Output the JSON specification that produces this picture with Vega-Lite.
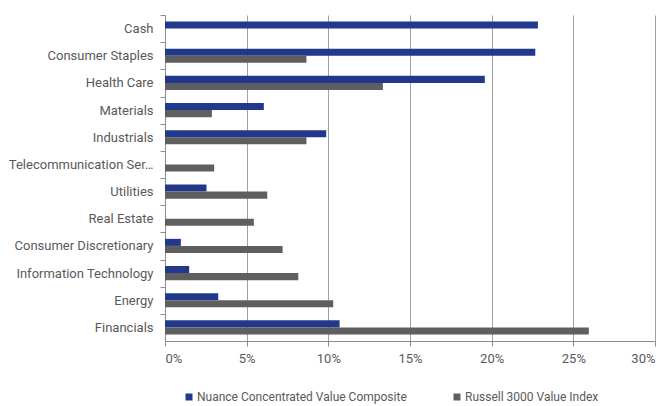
{
  "$schema": "https://vega.github.io/schema/vega-lite/v6.json",
  "width": 490,
  "height": 326,
  "autosize": {"type": "none"},
  "padding": {"left": 165, "top": 15, "right": 13, "bottom": 65},
  "background": "white",
  "config": {
    "view": {"stroke": null},
    "font": "Roboto"
  },
  "data": {
    "values": [
      {"sector": "Cash", "series": "Nuance Concentrated Value Composite", "value": 0.2283},
      {"sector": "Consumer Staples", "series": "Nuance Concentrated Value Composite", "value": 0.2267},
      {"sector": "Consumer Staples", "series": "Russell 3000 Value Index", "value": 0.0866},
      {"sector": "Health Care", "series": "Nuance Concentrated Value Composite", "value": 0.1958},
      {"sector": "Health Care", "series": "Russell 3000 Value Index", "value": 0.1334},
      {"sector": "Materials", "series": "Nuance Concentrated Value Composite", "value": 0.0605},
      {"sector": "Materials", "series": "Russell 3000 Value Index", "value": 0.0287},
      {"sector": "Industrials", "series": "Nuance Concentrated Value Composite", "value": 0.0987},
      {"sector": "Industrials", "series": "Russell 3000 Value Index", "value": 0.0866},
      {"sector": "Telecommunication Services", "series": "Russell 3000 Value Index", "value": 0.0301},
      {"sector": "Utilities", "series": "Nuance Concentrated Value Composite", "value": 0.0254},
      {"sector": "Utilities", "series": "Russell 3000 Value Index", "value": 0.0626},
      {"sector": "Real Estate", "series": "Russell 3000 Value Index", "value": 0.0544},
      {"sector": "Consumer Discretionary", "series": "Nuance Concentrated Value Composite", "value": 0.0097},
      {"sector": "Consumer Discretionary", "series": "Russell 3000 Value Index", "value": 0.072},
      {"sector": "Information Technology", "series": "Nuance Concentrated Value Composite", "value": 0.0148},
      {"sector": "Information Technology", "series": "Russell 3000 Value Index", "value": 0.0816},
      {"sector": "Energy", "series": "Nuance Concentrated Value Composite", "value": 0.0326},
      {"sector": "Energy", "series": "Russell 3000 Value Index", "value": 0.103},
      {"sector": "Financials", "series": "Nuance Concentrated Value Composite", "value": 0.1069},
      {"sector": "Financials", "series": "Russell 3000 Value Index", "value": 0.2595}
    ]
  },
  "mark": {"type": "bar"},
  "encoding": {
    "y": {
      "field": "sector",
      "type": "nominal",
      "sort": null,
      "title": null,
      "scale": {"paddingInner": 0.48, "paddingOuter": 0.24},
      "axis": {
        "domainColor": "#8c8c8c",
        "tickColor": "#8c8c8c",
        "tickSize": 5,
        "tickOffset": -13.58,
        "labelOffset": 13.58,
        "labelFontSize": 13,
        "labelColor": "#595959",
        "labelPadding": 7,
        "labelLimit": 150
      }
    },
    "yOffset": {
      "field": "series",
      "type": "nominal",
      "scale": {"domain": ["Nuance Concentrated Value Composite", "Russell 3000 Value Index"]}
    },
    "x": {
      "field": "value",
      "type": "quantitative",
      "title": null,
      "scale": {"domain": [0, 0.3], "nice": false},
      "axis": {
        "format": ".0%",
        "values": [0, 0.05, 0.1, 0.15, 0.2, 0.25, 0.3],
        "grid": true,
        "gridColor": "#a0a0a0",
        "domainColor": "#8c8c8c",
        "tickColor": "#8c8c8c",
        "tickSize": 5,
        "labelFontSize": 13,
        "labelColor": "#595959",
        "labelPadding": 6
      }
    },
    "color": {
      "field": "series",
      "type": "nominal",
      "title": null,
      "scale": {
        "domain": ["Nuance Concentrated Value Composite", "Russell 3000 Value Index"],
        "range": ["#22388c", "#5f5f5f"]
      },
      "legend": {
        "orient": "none",
        "direction": "horizontal",
        "legendX": 18,
        "legendY": 376,
        "symbolType": "square",
        "symbolSize": 49,
        "symbolStrokeWidth": 0,
        "labelFontSize": 12,
        "labelColor": "#595959",
        "labelLimit": 300,
        "columnPadding": 44,
        "labelOffset": 2
      }
    }
  }
}
